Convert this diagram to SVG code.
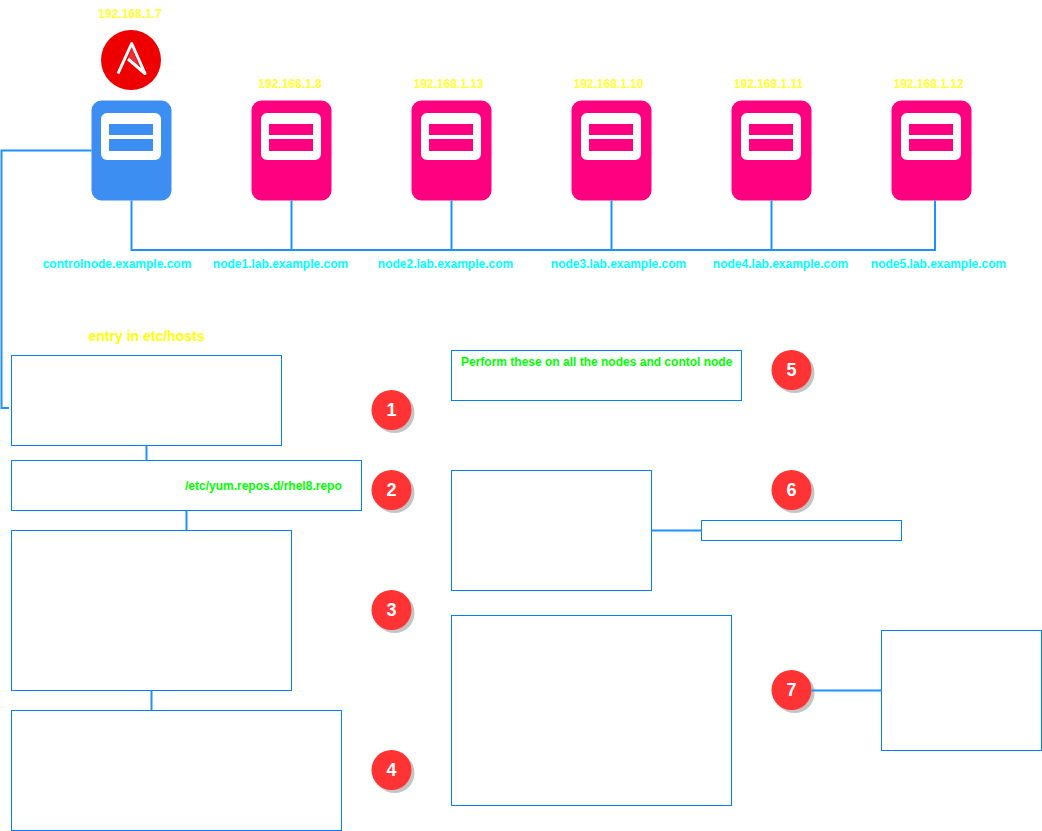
<svg xmlns="http://www.w3.org/2000/svg" width="1042" height="831" viewBox="0 0 1042 831">
<style>
text{font-family:"Liberation Sans",Arial,sans-serif;font-weight:bold;font-size:12px}
.ip{fill:#ffff33;text-anchor:middle}
.host{fill:#00ffff;text-anchor:middle}
.green{fill:#00ff00}
.note{fill:#ffff00;font-size:14px;text-anchor:middle}
.box{fill:#fff;stroke:#007fff;stroke-width:1}
.conn{fill:none;stroke:#2090ff;stroke-width:2}
.num{fill:#fff;font-size:18px;text-anchor:middle}
.blue{fill:#3d8ef2}
.pink{fill:#ff0080}
</style>
<defs>
<g id="srv-inner">
<rect x="0" y="0" width="80" height="100" rx="10" ry="10"/>
<rect x="9.500" y="12.500" width="60" height="47" rx="6" ry="6" fill="#fff"/>
<rect x="17.500" y="23.500" width="44" height="11"/>
<rect x="17.500" y="38.500" width="44" height="12"/>
</g>
<g id="badge">
<circle cx="3" cy="3" r="20" fill="#c4c4c4"/>
<circle cx="0" cy="0" r="20" fill="#ff3333"/>
</g>
</defs>
<g id="ansible">
<circle cx="131" cy="60" r="30" fill="#ee0000"/>
<path d="M131.800 47L128 59L139 67Z" fill="#e8303a"/>
<path d="M118 73.500L131.700 43.500L145 73.500L128 59" fill="none" stroke="#fff" stroke-width="3" stroke-linejoin="round"/>
<text class="ip" x="130" y="18">192.168.1.7</text>
</g>
<g id="controlnode"><use href="#srv-inner" x="91.500" y="100.500" class="blue"/><text class="host" x="117" y="268">controlnode.example.com</text></g>
<g id="node1"><use href="#srv-inner" x="251.500" y="100.500" class="pink"/><text class="ip" x="290" y="88">192.168.1.8</text><text class="host" x="280.500" y="268">node1.lab.example.com</text></g>
<g id="node2"><use href="#srv-inner" x="411.500" y="100.500" class="pink"/><text class="ip" x="448.500" y="88">192.168.1.13</text><text class="host" x="445.500" y="268">node2.lab.example.com</text></g>
<g id="node3"><use href="#srv-inner" x="571.500" y="100.500" class="pink"/><text class="ip" x="608.500" y="88">192.168.1.10</text><text class="host" x="618.500" y="268">node3.lab.example.com</text></g>
<g id="node4"><use href="#srv-inner" x="731.500" y="100.500" class="pink"/><text class="ip" x="768.500" y="88">192.168.1.11</text><text class="host" x="780.500" y="268">node4.lab.example.com</text></g>
<g id="node5"><use href="#srv-inner" x="891.500" y="100.500" class="pink"/><text class="ip" x="928.500" y="88">192.168.1.12</text><text class="host" x="938.500" y="268">node5.lab.example.com</text></g>
<g id="box1"><rect class="box" x="11.500" y="355.500" width="270" height="90"/><text class="note" x="146.500" y="341">entry in etc/hosts</text></g>
<g id="box2"><rect class="box" x="11.500" y="460.500" width="350" height="50"/><text class="green" x="185" y="490">/etc/yum.repos.d/rhel8.repo</text></g>
<g id="box3"><rect class="box" x="11.500" y="530.500" width="280" height="160"/></g>
<g id="box4"><rect class="box" x="11.500" y="710.500" width="330" height="120"/></g>
<g id="box5"><rect class="box" x="451.500" y="350.500" width="290" height="50"/><text class="green" x="461" y="366">Perform these on all the nodes and contol node</text></g>
<g id="box6"><rect class="box" x="451.500" y="470.500" width="200" height="120"/></g>
<g id="box6b"><rect class="box" x="701.500" y="520.500" width="200" height="20"/></g>
<g id="box7"><rect class="box" x="451.500" y="615.500" width="280" height="190"/></g>
<g id="box7b"><rect class="box" x="881.500" y="630.500" width="160" height="120"/></g>
<g id="badge1"><use href="#badge" x="391.500" y="410"/><text class="num" x="391.500" y="416">1</text></g>
<g id="badge2"><use href="#badge" x="391.500" y="490"/><text class="num" x="391.500" y="496">2</text></g>
<g id="badge3"><use href="#badge" x="391.500" y="610"/><text class="num" x="391.500" y="616">3</text></g>
<g id="badge4"><use href="#badge" x="391.500" y="770"/><text class="num" x="391.500" y="776">4</text></g>
<g id="badge5"><use href="#badge" x="791.500" y="370"/><text class="num" x="791.500" y="376">5</text></g>
<g id="badge6"><use href="#badge" x="791.500" y="490"/><text class="num" x="791.500" y="496">6</text></g>
<g id="badge7"><use href="#badge" x="791.500" y="690"/><text class="num" x="791.500" y="696">7</text></g>
<g id="connectors">
<path class="conn" d="M91.500 150.500H1.500V408H9"/>
<path class="conn" d="M131.500 200.500V250H935V200.500"/>
<path class="conn" d="M291.500 200.500V250M451.500 200.500V250M611.500 200.500V250M771.500 200.500V250"/>
<path class="conn" d="M146.500 445.500V460.500M186.500 510.500V530.500M151.500 690.500V710.500M651.500 530.500H701.500M811.500 690.500H881.500"/>
</g>
</svg>
